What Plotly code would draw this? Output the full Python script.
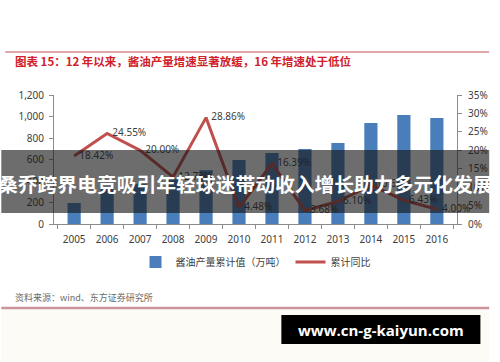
import plotly.graph_objects as go

years = ["2005", "2006", "2007", "2008", "2009", "2010", "2011", "2012", "2013", "2014", "2015", "2016"]
output_wt = [195, 330, 370, 420, 500, 595, 660, 697, 753, 939, 1014, 986]
growth_pct = [18.42, 24.55, 20.00, 12.73, 28.86, 4.48, 16.39, 3.68, 6.10, 10.63, 6.43, 4.00]
growth_labels = ["18.42%", "24.55%", "20.00%", "12.73%", "28.86%", "4.48%", "16.39%", "3.68%", "6.10%", "10.63%", "6.43%", "4.00%"]
left_ticks = [0, 200, 400, 600, 800, 1000, 1200]
right_ticks = [0, 0.05, 0.10, 0.15, 0.20, 0.25, 0.30, 0.35]

W, H = 500, 362
L, R, T, B = 54, 467, 95, 224

def px(x):
    return (x - L) / (R - L)

def py(y):
    return (B - y) / (B - T)

CJK = "Noto Sans CJK SC"
NUM = "Noto Sans, Noto Sans CJK SC"

fig = go.Figure()
fig.add_trace(go.Bar(
    x=years, y=output_wt, name="酱油产量累计值（万吨）",
    marker=dict(color="#4a7ebb", line=dict(width=0)), width=0.4,
    yaxis="y",
))
fig.add_trace(go.Scatter(
    x=years, y=[v / 100 for v in growth_pct], name="累计同比",
    mode="lines+text", text=["\u00a0\u00a0" + s for s in growth_labels],
    textposition="middle right",
    textfont=dict(size=10, color="#404040", family=NUM),
    line=dict(color="#c0504d", width=3), yaxis="y2", cliponaxis=False,
))

axis_common = dict(showline=True, linecolor="#8c8c8c", linewidth=1, ticks="outside",
                   ticklen=4, tickcolor="#8c8c8c", showgrid=False, zeroline=False,
                   tickfont=dict(size=10, color="#404040", family=NUM))

fig.update_layout(
    width=W, height=H,
    margin=dict(l=L, r=W - R, t=T, b=H - B, pad=0),
    paper_bgcolor="white", plot_bgcolor="white",
    bargap=0.6,
    showlegend=True,
    legend=dict(orientation="h", x=0.5, xanchor="center", y=py(262), yanchor="middle",
                font=dict(size=10, color="#404040", family=CJK), itemwidth=30,
                bgcolor="rgba(0,0,0,0)", tracegroupgap=0),
    xaxis=dict(**axis_common, tickson="boundaries", type="category", ticklabelstandoff=6),
    yaxis=dict(**axis_common, range=[0, 1200], tickvals=left_ticks, tickformat=",",
               ticklabelstandoff=3),
    yaxis2=dict(**axis_common, range=[0, 0.35], tickvals=right_ticks, tickformat=".0%",
                overlaying="y", side="right", ticklabelstandoff=4),
)

shapes = [
    dict(type="line", xref="paper", yref="paper", x0=px(4), x1=px(500), y0=py(52), y1=py(52),
         line=dict(color="#c0504d", width=1.2)),
    dict(type="rect", xref="paper", yref="paper", x0=px(0), x1=px(500), y0=py(310), y1=py(362),
         fillcolor="#fdfbf6", line=dict(width=0), layer="below"),
    dict(type="line", xref="paper", yref="paper", x0=px(0), x1=px(500), y0=py(308), y1=py(308),
         line=dict(color="#c9959b", width=2.5)),
    dict(type="rect", xref="paper", yref="paper", x0=px(0), x1=px(500), y0=py(150), y1=py(213),
         fillcolor="rgba(20,20,20,0.62)", line=dict(width=0), layer="above"),
    dict(type="rect", xref="paper", yref="paper", x0=px(287), x1=px(491), y0=py(315), y1=py(344),
         fillcolor="#000000", line=dict(width=0), layer="above"),
]
fig.update_layout(shapes=shapes)

annotations = [
    dict(text="<b>图表 15：12 年以来，酱油产量增速显著放缓，16 年增速处于低位</b>",
         xref="paper", yref="paper", x=px(12), y=py(61), xanchor="left", yanchor="middle",
         showarrow=False, font=dict(size=11.5, color="#d0202a", family=CJK)),
    dict(text="资料来源：wind、东方证券研究所",
         xref="paper", yref="paper", x=px(12), y=py(297), xanchor="left", yanchor="middle",
         showarrow=False, font=dict(size=9, color="#6a6a6a", family=CJK)),
    dict(text="<b>桑乔跨界电竞吸引年轻球迷带动收入增长助力多元化发展</b>",
         xref="paper", yref="paper", x=px(250), y=py(183), xanchor="center", yanchor="middle",
         showarrow=False, font=dict(size=19.8, color="#ffffff", family=CJK)),
    dict(text="<b>www.cn-g-kaiyun.com</b>",
         xref="paper", yref="paper", x=px(389), y=py(330), xanchor="center", yanchor="middle",
         showarrow=False, font=dict(size=15, color="#ffffff", family="Open Sans, Noto Sans")),
]
fig.update_layout(annotations=annotations)

fig.write_html("out.html", config={"displayModeBar": False},
               post_script="document.body.style.margin='0px';")
